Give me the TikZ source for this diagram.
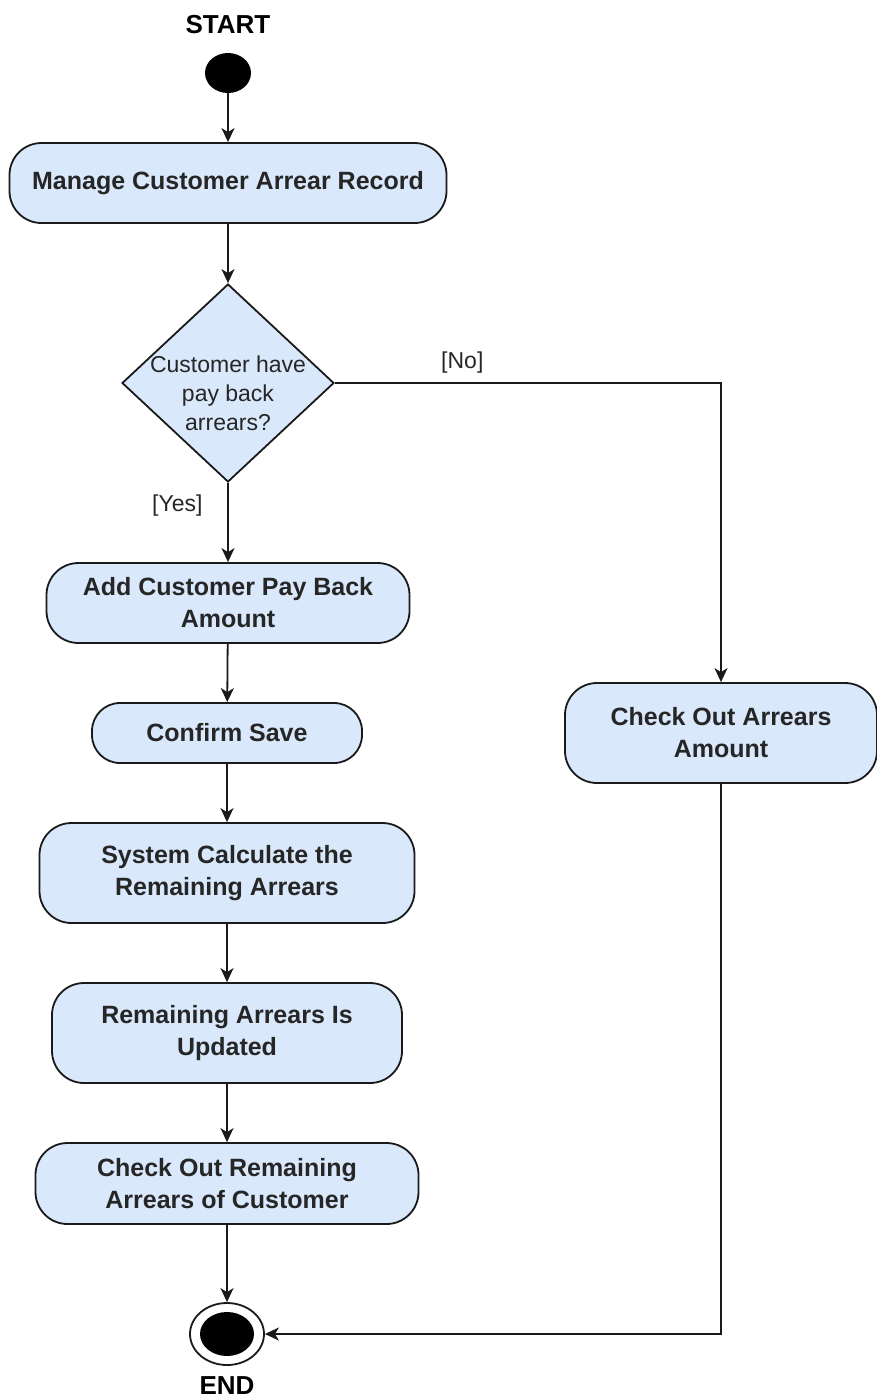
\documentclass[tikz,border=0pt]{standalone}
\usepackage{fontspec}
\setmainfont{Liberation Sans}
\usetikzlibrary{shapes.geometric,arrows.meta}
\definecolor{actfill}{HTML}{DAE8FC}
\definecolor{ink}{HTML}{1A1A1A}
\definecolor{txt}{HTML}{262626}

\begin{document}
\begin{tikzpicture}[x=0.5pt,y=-0.5pt,
  act/.style={draw=ink, line width=0.9pt, fill=actfill, rounded corners=16pt,
    align=center, text=txt, inner sep=0pt,
    font=\bfseries\fontsize{12.5}{16}\selectfont},
  flow/.style={draw=ink, line width=0.9pt,
    -{Stealth[length=7pt,width=6.5pt,inset=2pt]}},
  guard/.style={text=txt, font=\fontsize{11.5}{14}\selectfont},
  caption/.style={text=black, font=\bfseries\fontsize{13}{15}\selectfont}]
\useasboundingbox (0,0) rectangle (877,1399);

% initial state
\node[caption] (starttxt) at (228,25) {START};
\node[ellipse, fill=black, inner sep=0pt, minimum width=23pt, minimum height=20pt] (start) at (228,73) {};

% actions on the main path
\node[act, minimum width=218.5pt, minimum height=40pt] (mng) at (228,183) {Manage Customer Arrear Record};

\node[diamond, draw=ink, line width=0.9pt, fill=actfill, inner sep=0pt,
      minimum width=106pt, minimum height=99pt] (dec) at (228,383) {};
\node[align=center, text=txt, font=\fontsize{11.5}{14.5}\selectfont] (dectxt) at (228,393)
  {Customer have\\pay back\\arrears?};

\node[act, minimum width=181.5pt, minimum height=40pt] (add) at (228,603) {Add Customer Pay Back\\Amount};
\node[act, rounded corners=14pt, minimum width=135pt, minimum height=30pt] (conf) at (227,733) {Confirm Save};
\node[act, minimum width=187.5pt, minimum height=50pt] (calc) at (227,873) {System Calculate the\\Remaining Arrears};
\node[act, minimum width=175pt, minimum height=50pt] (upd) at (227,1033) {Remaining Arrears Is\\Updated};
\node[act, minimum width=191.5pt, minimum height=40.5pt] (chk) at (227,1183.5) {Check Out Remaining\\Arrears of Customer};

% action on the [No] branch
\node[act, minimum width=156pt, minimum height=50pt] (arr) at (721,733) {Check Out Arrears\\Amount};

% final state
\node[ellipse, draw=ink, line width=0.9pt, fill=white, inner sep=0pt,
      minimum width=37pt, minimum height=31pt] (finish) at (227,1334) {};
\node[ellipse, fill=black, inner sep=0pt, minimum width=27pt, minimum height=22pt] (finishcore) at (finish) {};
\node[caption] (endtxt) at (227,1386) {END};

% control flow
\draw[flow] (start) -- (mng);
\draw[flow] (mng) -- (dec);
\draw[flow] (dec.south) -- node[guard, pos=0.28, left=9pt] (yes) {[Yes]} (add.north);
\draw[flow] (dec.east) -| node[guard, pos=0.165, above=1pt] (no) {[No]} (arr.north);
\draw[flow] (add) -- (conf);
\draw[flow] (conf) -- (calc);
\draw[flow] (calc) -- (upd);
\draw[flow] (upd) -- (chk);
\draw[flow] (chk) -- (finish);
\draw[flow] (arr.south) |- (finish.east);
\end{tikzpicture}
\end{document}
